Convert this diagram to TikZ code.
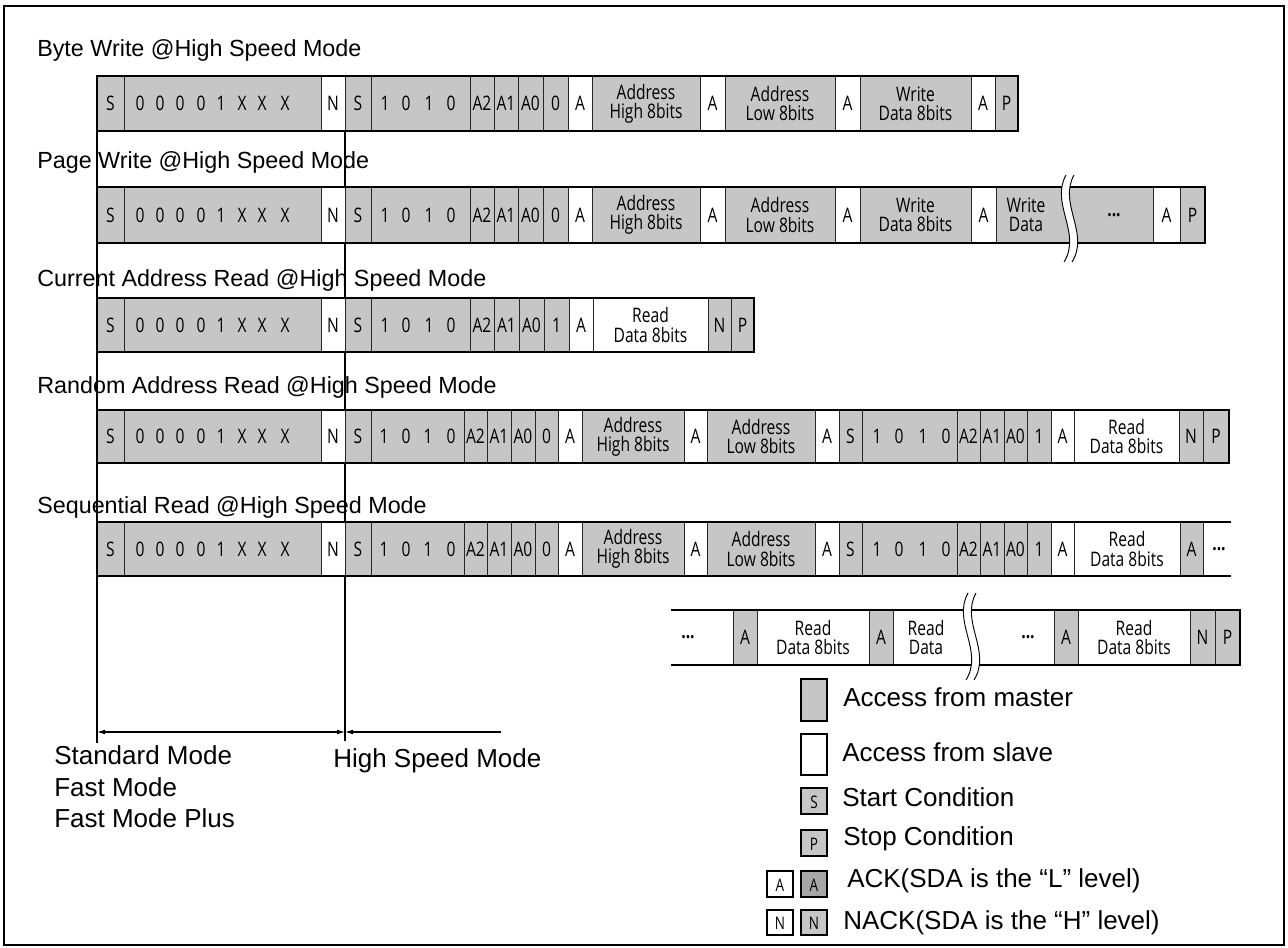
\documentclass[tikz,border=0pt]{standalone}
\usepackage{fontspec}
\setmainfont{Liberation Sans}
\newfontfamily\cellfont[FakeStretch=0.78]{Open Sans}
\usetikzlibrary{arrows.meta}
\definecolor{mgray}{HTML}{C6C6C6}
\definecolor{dgray}{HTML}{A6A6A6}
\tikzset{
 celltext/.style={font=\cellfont\fontsize{15}{14.5}\selectfont, align=center, inner sep=0pt},
 septr/.style={line width=0.75pt, black!85},
 outer/.style={line width=1.9pt, black},
 titletext/.style={font=\fontsize{17.5}{20}\selectfont, anchor=base west, inner sep=0pt},
 legtext/.style={font=\fontsize{19.5}{22}\selectfont, anchor=base west, inner sep=0pt},
 dimline/.style={line width=0.8pt, black},
 legbox/.style={line width=1.1pt, black},
 legletter/.style={font=\cellfont\fontsize{13}{13}\selectfont, inner sep=0pt},
 brkline/.style={line width=0.7pt, black},
}
\newcommand\rowT{0}
\newcommand\rowB{0}
\newcommand\setrow[2]{\renewcommand\rowT{#1}\renewcommand\rowB{#2}}
% cell with left separator
\newcommand\cl[4]{%
 \fill[#3] (#1,\rowT) rectangle (#2,\rowB);
 \draw[septr] (#1,\rowT) -- (#1,\rowB);
 \node[celltext] at ({(#1+#2)/2},{(\rowT+\rowB)/2}) {#4};}
% open cell, no separator
\newcommand\clo[3]{%
 \fill[#3] (#1,\rowT) rectangle (#2,\rowB);}
% text at a given x on the row
\newcommand\tx[2]{\node[celltext] at (#1,{(\rowT+\rowB)/2}) {#2};}
% break mark
\newcommand\brk[3]{%
 \fill[white] (#1,#2) .. controls ({#1-16},{#2+(#3-#2)/3}) and ({#1+16},{#2+2*(#3-#2)/3}) .. ({#1-2},#3)
   -- ({#1+6},#3) .. controls ({#1+24},{#2+2*(#3-#2)/3}) and ({#1-8},{#2+(#3-#2)/3}) .. ({#1+8},#2) -- cycle;
 \draw[brkline] (#1,#2) .. controls ({#1-16},{#2+(#3-#2)/3}) and ({#1+16},{#2+2*(#3-#2)/3}) .. ({#1-2},#3);
 \draw[brkline] ({#1+8},#2) .. controls ({#1-8},{#2+(#3-#2)/3}) and ({#1+24},{#2+2*(#3-#2)/3}) .. ({#1+6},#3);}
\newcommand\leftpart[1]{%
 \cl{97}{124}{mgray}{S}
 \cl{124}{321}{mgray}{}
 \foreach \xx/\tt in {140/0,160/0,180/0,201/0,221/1,242/X,262/X,285/X} {\tx{\xx}{\tt}}
 \cl{321}{345}{white}{N}
 \cl{345}{371}{mgray}{S}
}
\begin{document}
\begin{tikzpicture}[x=0.75pt,y=-0.75pt]
\useasboundingbox (0,0) rectangle (1288,948);
\draw[line width=1.1pt] (4,6) rectangle (1284,945);

% dimension lines (behind the rows)
\coordinate (L1) at (97,131);
\coordinate (L2) at (97,743);
\coordinate (R1) at (345,131);
\coordinate (R2) at (345,741);
\draw[dimline] (L1) -- (L2);
\draw[dimline] (R1) -- (R2);
\coordinate (AL) at (97,732);
\coordinate (AM) at (345,732);
\coordinate (AR) at (501,732);
\draw[dimline,{Latex[length=6pt,width=3.6pt]}-{Latex[length=6pt,width=3.6pt]}] (AL) -- (AM);
\draw[dimline,{Latex[length=6pt,width=3.6pt]}-] (AM) -- (AR);

% titles
\node[titletext] (t1) at (37,57) {Byte Write @High Speed Mode};
\node[titletext] (t2) at (37,169) {Page Write @High Speed Mode};
\node[titletext] (t3) at (37,287) {Current Address Read @High Speed Mode};
\node[titletext] (t4) at (37,393) {Random Address Read @High Speed Mode};
\node[titletext] (t5) at (37,513) {Sequential Read @High Speed Mode};

% ---------- Row 1: Byte Write
\setrow{76}{131}
\leftpart{}
\cl{371}{470}{mgray}{}
\foreach \xx/\tt in {385/1,406/0,429/1,451/0} {\tx{\xx}{\tt}}
\cl{470}{494}{mgray}{A2}
\cl{494}{518}{mgray}{A1}
\cl{518}{543}{mgray}{A0}
\cl{543}{568}{mgray}{0}
\cl{568}{592}{white}{A}
\cl{592}{700}{mgray}{Address\\High 8bits}
\cl{700}{725}{white}{A}
\cl{725}{835}{mgray}{Address\\Low 8bits}
\cl{835}{860}{white}{A}
\cl{860}{971}{mgray}{Write\\Data 8bits}
\cl{971}{995}{white}{A}
\cl{995}{1018}{mgray}{P}
\draw[outer] (97,76) rectangle (1018,131);

% ---------- Row 2: Page Write
\setrow{187}{243}
\leftpart{}
\cl{371}{470}{mgray}{}
\foreach \xx/\tt in {385/1,406/0,429/1,451/0} {\tx{\xx}{\tt}}
\cl{470}{494}{mgray}{A2}
\cl{494}{518}{mgray}{A1}
\cl{518}{543}{mgray}{A0}
\cl{543}{568}{mgray}{0}
\cl{568}{592}{white}{A}
\cl{592}{700}{mgray}{Address\\High 8bits}
\cl{700}{725}{white}{A}
\cl{725}{835}{mgray}{Address\\Low 8bits}
\cl{835}{860}{white}{A}
\cl{860}{971}{mgray}{Write\\Data 8bits}
\cl{971}{996}{white}{A}
\cl{996}{1153}{mgray}{}
\tx{1026}{Write\\Data}
\tx{1114}{\textbf{...}}
\cl{1153}{1180}{white}{A}
\cl{1180}{1205}{mgray}{P}
\draw[outer] (97,187) rectangle (1205,243);
\brk{1066}{175}{262}

% ---------- Row 3: Current Address Read
\setrow{298}{352}
\leftpart{}
\cl{371}{470}{mgray}{}
\foreach \xx/\tt in {385/1,406/0,429/1,451/0} {\tx{\xx}{\tt}}
\cl{470}{494}{mgray}{A2}
\cl{494}{519}{mgray}{A1}
\cl{519}{544}{mgray}{A0}
\cl{544}{569}{mgray}{1}
\cl{569}{593}{white}{A}
\cl{593}{708}{white}{Read\\Data 8bits}
\cl{708}{731}{mgray}{N}
\cl{731}{754}{mgray}{P}
\draw[outer] (97,298) rectangle (754,352);

% ---------- Row 4: Random Address Read
\setrow{410}{463}
\leftpart{}
\cl{371}{464}{mgray}{}
\foreach \xx/\tt in {384/1,406/0,428/1,451/0} {\tx{\xx}{\tt}}
\cl{464}{487}{mgray}{A2}
\cl{487}{511}{mgray}{A1}
\cl{511}{535}{mgray}{A0}
\cl{535}{558}{mgray}{0}
\cl{558}{582}{white}{A}
\cl{582}{684}{mgray}{Address\\High 8bits}
\cl{684}{707}{white}{A}
\cl{707}{815}{mgray}{Address\\Low 8bits}
\cl{815}{839}{white}{A}
\cl{839}{862}{mgray}{S}
\cl{862}{957}{mgray}{}
\foreach \xx/\tt in {877/1,899/0,923/1,946/0} {\tx{\xx}{\tt}}
\cl{957}{980}{mgray}{A2}
\cl{980}{1004}{mgray}{A1}
\cl{1004}{1027}{mgray}{A0}
\cl{1027}{1051}{mgray}{1}
\cl{1051}{1074}{white}{A}
\cl{1074}{1179}{white}{Read\\Data 8bits}
\cl{1179}{1203}{mgray}{N}
\cl{1203}{1229}{mgray}{P}
\draw[outer] (97,410) rectangle (1229,463);

% ---------- Row 5: Sequential Read (first line)
\setrow{522}{576}
\leftpart{}
\cl{371}{464}{mgray}{}
\foreach \xx/\tt in {384/1,406/0,428/1,451/0} {\tx{\xx}{\tt}}
\cl{464}{487}{mgray}{A2}
\cl{487}{511}{mgray}{A1}
\cl{511}{535}{mgray}{A0}
\cl{535}{558}{mgray}{0}
\cl{558}{582}{white}{A}
\cl{582}{684}{mgray}{Address\\High 8bits}
\cl{684}{707}{white}{A}
\cl{707}{815}{mgray}{Address\\Low 8bits}
\cl{815}{839}{white}{A}
\cl{839}{862}{mgray}{S}
\cl{862}{957}{mgray}{}
\foreach \xx/\tt in {877/1,899/0,923/1,946/0} {\tx{\xx}{\tt}}
\cl{957}{980}{mgray}{A2}
\cl{980}{1004}{mgray}{A1}
\cl{1004}{1027}{mgray}{A0}
\cl{1027}{1051}{mgray}{1}
\cl{1051}{1074}{white}{A}
\cl{1074}{1180}{white}{Read\\Data 8bits}
\cl{1180}{1203}{mgray}{A}
\cl{1203}{1231}{white}{}
\tx{1219}{\textbf{...}}
\draw[outer] (1231,522) -- (97,522) -- (97,576) -- (1231,576);

% ---------- Row 6: Sequential Read (second line)
\setrow{610}{665}
\clo{671}{733}{white}
\tx{688}{\textbf{...}}
\cl{733}{757}{mgray}{A}
\cl{757}{869}{white}{Read\\Data 8bits}
\cl{869}{893}{mgray}{A}
\cl{893}{1054}{white}{}
\tx{926}{Read\\Data}
\tx{1028}{\textbf{...}}
\cl{1054}{1078}{mgray}{A}
\cl{1078}{1190}{white}{Read\\Data 8bits}
\cl{1190}{1215}{mgray}{N}
\cl{1215}{1240}{mgray}{P}
\draw[outer] (671,610) -- (1240,610) -- (1240,665) -- (671,665);
\brk{968}{593}{680}

% ---------- mode labels
\node[legtext] (m1) at (54,764) {Standard Mode};
\node[legtext] (m2) at (54,796) {Fast Mode};
\node[legtext] (m3) at (54,827) {Fast Mode Plus};
\node[legtext] (m4) at (333,767) {High Speed Mode};

% ---------- legend
\draw[legbox, fill=mgray] (801,679) rectangle (827,721);
\node[legtext] (g1) at (843,706) {Access from master};
\draw[legbox, fill=white] (801,734) rectangle (827,775);
\node[legtext] (g2) at (842,761) {Access from slave};
\draw[legbox, fill=mgray] (801,788) rectangle (827,814);
\node[legletter] at (814,802) {S};
\node[legtext] (g3) at (842,806) {Start Condition};
\draw[legbox, fill=mgray] (801,830) rectangle (827,856);
\node[legletter] at (814,844) {P};
\node[legtext] (g4) at (843,845) {Stop Condition};
\draw[legbox, fill=white] (767,871) rectangle (793,897);
\node[legletter] at (780,885) {A};
\draw[legbox, fill=dgray] (801,871) rectangle (827,897);
\node[legletter] at (814,885) {A};
\node[legtext] (g5) at (847,887) {ACK(SDA is the “L” level)};
\draw[legbox, fill=white] (767,910) rectangle (793,935);
\node[legletter] at (780,923) {N};
\draw[legbox, fill=mgray] (801,910) rectangle (827,935);
\node[legletter] at (814,923) {N};
\node[legtext] (g6) at (843,929) {NACK(SDA is the “H” level)};
\end{tikzpicture}
\end{document}
